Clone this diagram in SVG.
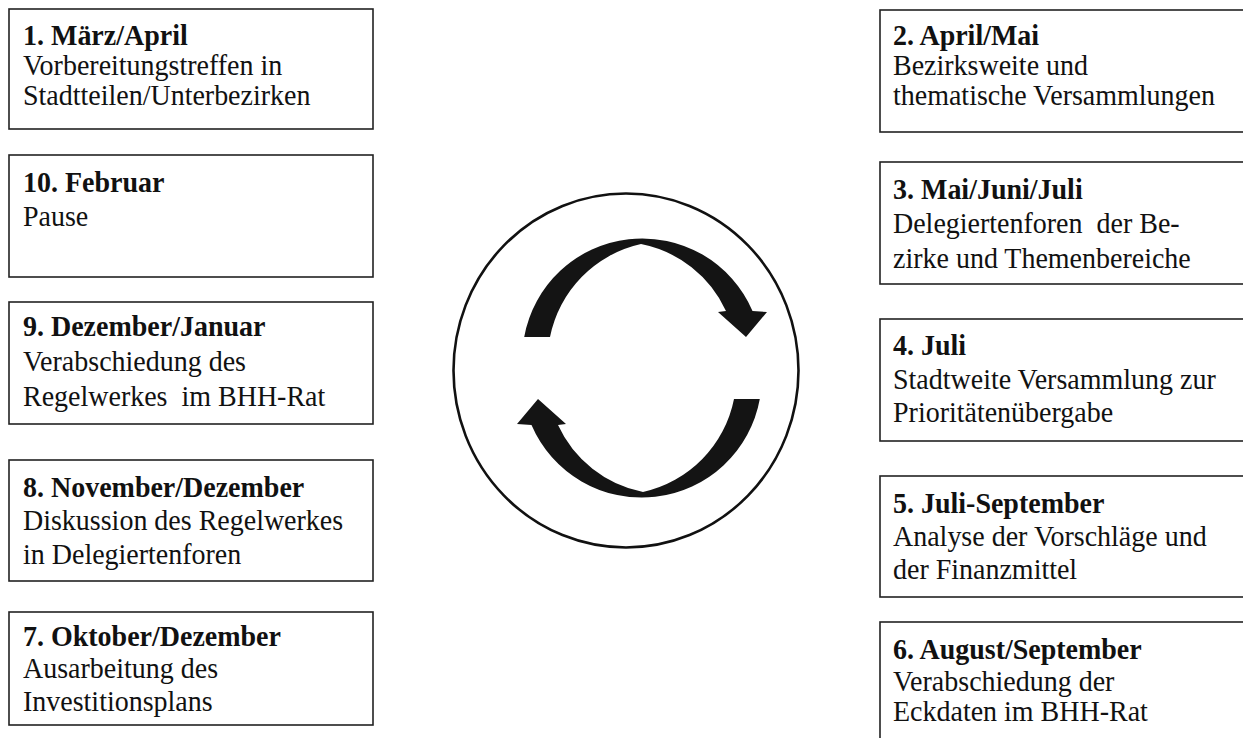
<svg xmlns="http://www.w3.org/2000/svg" width="1243" height="738" viewBox="0 0 1243 738">
<style>
.box{fill:#fff;stroke:#222;stroke-width:1.6}
.t{font-family:"Liberation Serif","Times New Roman",serif;font-size:30px;fill:#111}
.b{font-weight:bold}
.arr{fill:#141414}
</style>
<defs>
<path id="arc" d="M -117.8,-31 A 120 120 0 0 1 110.5,-57 L 125,-56 L 104,-31 L 76,-56 L 84,-57 A 119 119 0 0 0 -1,-124 A 119 119 0 0 0 -92,-31 Z"/>
</defs>
<rect width="1243" height="738" fill="#fff"/>
<g id="n1"><rect class="box" x="9" y="9" width="364" height="120"/>
<text class="t" transform="translate(23,0) scale(0.933,1)"><tspan class="b" x="0" y="45">1. März/April</tspan><tspan x="0" y="75">Vorbereitungstreffen in</tspan><tspan x="0" y="105">Stadtteilen/Unterbezirken</tspan></text></g>
<g id="n10"><rect class="box" x="9" y="155" width="364" height="122"/>
<text class="t" transform="translate(23,0) scale(0.933,1)"><tspan class="b" x="0" y="192">10. Februar</tspan><tspan x="0" y="226">Pause</tspan></text></g>
<g id="n9"><rect class="box" x="9" y="302" width="364" height="122"/>
<text class="t" transform="translate(23,0) scale(0.933,1)" xml:space="preserve"><tspan class="b" x="0" y="336">9. Dezember/Januar</tspan><tspan x="0" y="371">Verabschiedung des</tspan><tspan x="0" y="406">Regelwerkes  im BHH-Rat</tspan></text></g>
<g id="n8"><rect class="box" x="9" y="460" width="364" height="121"/>
<text class="t" transform="translate(23,0) scale(0.933,1)"><tspan class="b" x="0" y="497">8. November/Dezember</tspan><tspan x="0" y="530">Diskussion des Regelwerkes</tspan><tspan x="0" y="564">in Delegiertenforen</tspan></text></g>
<g id="n7"><rect class="box" x="9" y="612" width="364" height="113"/>
<text class="t" transform="translate(23,0) scale(0.933,1)"><tspan class="b" x="0" y="646">7. Oktober/Dezember</tspan><tspan x="0" y="678">Ausarbeitung des</tspan><tspan x="0" y="711">Investitionsplans</tspan></text></g>
<g id="n2"><rect class="box" x="880" y="10" width="380" height="122"/>
<text class="t" transform="translate(893,0) scale(0.933,1)"><tspan class="b" x="0" y="45">2. April/Mai</tspan><tspan x="0" y="75">Bezirksweite und</tspan><tspan x="0" y="105">thematische Versammlungen</tspan></text></g>
<g id="n3"><rect class="box" x="880" y="162" width="380" height="122"/>
<text class="t" transform="translate(893,0) scale(0.933,1)" xml:space="preserve"><tspan class="b" x="0" y="199">3. Mai/Juni/Juli</tspan><tspan x="0" y="233">Delegiertenforen  der Be-</tspan><tspan x="0" y="268">zirke und Themenbereiche</tspan></text></g>
<g id="n4"><rect class="box" x="880" y="319" width="380" height="122"/>
<text class="t" transform="translate(893,0) scale(0.933,1)"><tspan class="b" x="0" y="355">4. Juli</tspan><tspan x="0" y="389">Stadtweite Versammlung zur</tspan><tspan x="0" y="422">Prioritätenübergabe</tspan></text></g>
<g id="n5"><rect class="box" x="880" y="476" width="380" height="121"/>
<text class="t" transform="translate(893,0) scale(0.933,1)"><tspan class="b" x="0" y="513">5. Juli-September</tspan><tspan x="0" y="546">Analyse der Vorschläge und</tspan><tspan x="0" y="579">der Finanzmittel</tspan></text></g>
<g id="n6"><rect class="box" x="880" y="622" width="380" height="130"/>
<text class="t" transform="translate(893,0) scale(0.933,1)"><tspan class="b" x="0" y="659">6. August/September</tspan><tspan x="0" y="691">Verabschiedung der</tspan><tspan x="0" y="721">Eckdaten im BHH-Rat</tspan></text></g>
<g id="cycle">
<ellipse cx="626" cy="370.5" rx="172.5" ry="177" fill="none" stroke="#111" stroke-width="2.6"/>
<g id="connectors">
<use href="#arc" class="arr" transform="translate(642,368)"/>
<use href="#arc" class="arr" transform="translate(642,368) rotate(180)"/>
</g>
</g>
</svg>
